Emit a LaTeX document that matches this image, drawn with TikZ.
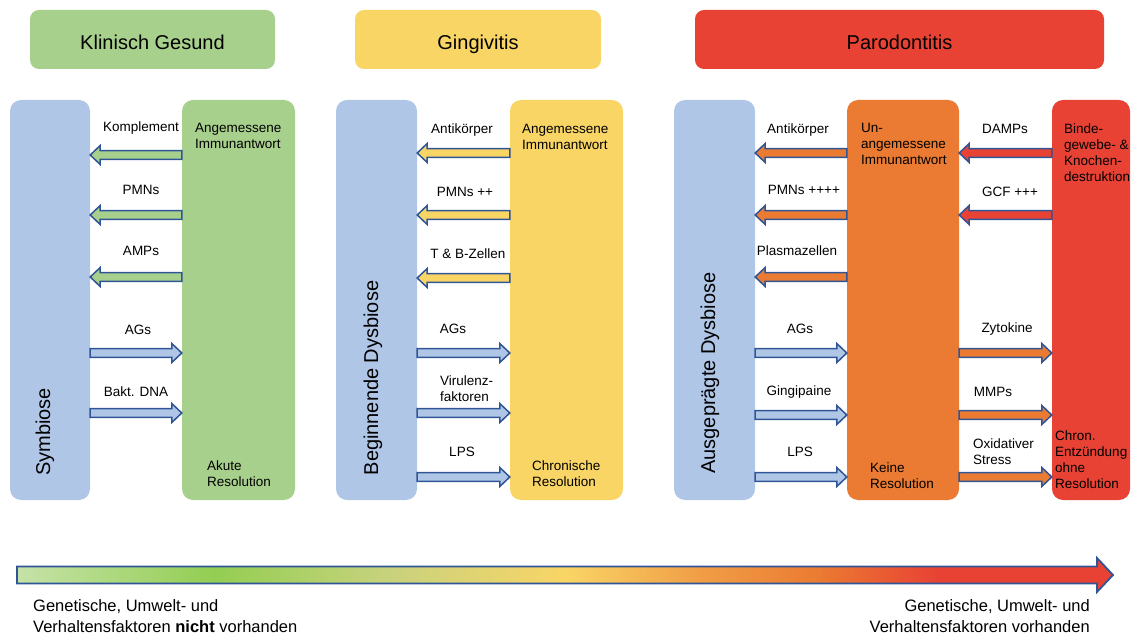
\documentclass[tikz,border=0pt]{standalone}
\usepackage{fontspec}
\setmainfont{Liberation Sans}
\usetikzlibrary{calc}
\definecolor{cblue}{HTML}{B0C6E6}
\definecolor{cgreen}{HTML}{A8D08D}
\definecolor{cyellow}{HTML}{F9D566}
\definecolor{corange}{HTML}{EB7B32}
\definecolor{cred}{HTML}{E84234}
\definecolor{abl}{HTML}{2F5597}
\definecolor{lgreen}{HTML}{C6E2A8}
\definecolor{mgreen}{HTML}{93CE52}
\pgfdeclarehorizontalshading{barshade}{100bp}{color(0bp)=(lgreen); color(25bp)=(lgreen); color(34bp)=(mgreen); color(42bp)=(cgreen!60!cyellow); color(50bp)=(cyellow); color(56bp)=(cyellow!40!corange); color(61.5bp)=(corange); color(67bp)=(cred); color(75bp)=(cred); color(100bp)=(cred)}
\tikzset{
  col/.style={rounded corners=11pt, inner sep=0pt, minimum height=400pt},
  hdr/.style={rounded corners=9pt, inner sep=0pt, minimum height=59pt, text height=21pt, text depth=0pt, font=\fontsize{20}{24}\selectfont},
  lab/.style={inner sep=0pt, font=\fontsize{13.5}{16}\selectfont},
  labl/.style={lab, anchor=west, align=left},
  rot/.style={inner sep=0pt, rotate=90, font=\fontsize{20}{24}\selectfont},
  fatarrow/.style n args={4}{draw=abl, line width=1.5pt, fill=#1, line join=miter,
    to path={let \p1=(\tikztostart), \p2=(\tikztotarget), \n1={ifthenelse(\x2>\x1,#4,-#4)} in
      (\x1,\y1-#2) -- (\x2-\n1,\y1-#2) -- (\x2-\n1,\y1-#3) -- (\x2,\y1) -- (\x2-\n1,\y1+#3) -- (\x2-\n1,\y1+#2) -- (\x1,\y1+#2) -- cycle}},
  fa/.style={fatarrow={#1}{4.3}{9.5}{10}},
}
\begin{document}
\begin{tikzpicture}[x=1pt,y=-1pt]
\useasboundingbox (0,0) rectangle (1133,636);
% headers
\node[hdr, fill=cgreen, minimum width=245pt] (h1) at (152.5,39.5) {Klinisch Gesund};
\node[hdr, fill=cyellow, minimum width=246pt] (h2) at (478,39.5) {Gingivitis};
\node[hdr, fill=cred, minimum width=409pt] (h3) at (899.5,39.5) {Parodontitis};
% columns
\node[col, fill=cblue, minimum width=80pt] (b1) at (50,300) {};
\node[col, fill=cgreen, minimum width=113pt] (g1) at (238.5,300) {};
\node[col, fill=cblue, minimum width=81pt] (b2) at (376.5,300) {};
\node[col, fill=cyellow, minimum width=113pt] (y2) at (566.5,300) {};
\node[col, fill=cblue, minimum width=81pt] (b3) at (714.5,300) {};
\node[col, fill=corange, minimum width=112pt] (o3) at (903,300) {};
\node[col, fill=cred, minimum width=78pt] (r3) at (1091,300) {};
% rotated labels
\node[rot] (t1) at (45,432) {Symbiose};
\node[rot] (t2) at (373,378) {Beginnende Dysbiose};
\node[rot] (t3) at (710,373) {Ausgeprägte Dysbiose};
% column texts
\node[labl] (g1a) at (195,136) {Angemessene\\Immunantwort};
\node[labl] (g1b) at (207,474) {Akute\\Resolution};
\node[labl] (y2a) at (522,137) {Angemessene\\Immunantwort};
\node[labl] (y2b) at (532,474) {Chronische\\Resolution};
\node[labl] (o3a) at (861,144) {Un-\\angemessene\\Immunantwort};
\node[labl] (o3b) at (870,476) {Keine\\Resolution};
\node[labl] (r3a) at (1064,152.5) {Binde-\\gewebe- \&\\Knochen-\\destruktion};
\node[labl] (r3b) at (1055,459.5) {Chron.\\Entzündung\\ohne\\Resolution};
% column 1 arrows
\draw[fa=cgreen] (g1.west|-0,155) to (b1.east|-0,155);
\draw[fa=cgreen] (g1.west|-0,215) to (b1.east|-0,215);
\draw[fa=cgreen] (g1.west|-0,277) to (b1.east|-0,277);
\draw[fa=cblue] (b1.east|-0,353) to (g1.west|-0,353);
\draw[fa=cblue] (b1.east|-0,413) to (g1.west|-0,413);
\node[lab] (l11) at (141,128) {Komplement};
\node[lab] (l12) at (141,190) {PMNs};
\node[lab] (l13) at (141,251) {AMPs};
\node[lab] (l14) at (138,330) {AGs};
\node[lab] (l15) at (136,392) {Bakt. DNA};
% column 2 arrows
\draw[fa=cyellow] (y2.west|-0,153) to (b2.east|-0,153);
\draw[fa=cyellow] (y2.west|-0,215) to (b2.east|-0,215);
\draw[fa=cyellow] (y2.west|-0,278) to (b2.east|-0,278);
\draw[fa=cblue] (b2.east|-0,353) to (y2.west|-0,353);
\draw[fa=cblue] (b2.east|-0,413) to (y2.west|-0,413);
\draw[fa=cblue] (b2.east|-0,477) to (y2.west|-0,477);
\node[lab] (l21) at (462,130) {Antikörper};
\node[lab] (l22) at (465,192) {PMNs ++};
\node[lab] (l23) at (468,254) {T \& B-Zellen};
\node[lab] (l24) at (453,329) {AGs};
\node[labl] (l25) at (440,389) {Virulenz-\\faktoren};
\node[lab] (l26) at (462,452) {LPS};
% column 3 arrows
\draw[fa=corange] (o3.west|-0,153) to (b3.east|-0,153);
\draw[fa=corange] (o3.west|-0,215) to (b3.east|-0,215);
\draw[fa=corange] (o3.west|-0,277) to (b3.east|-0,277);
\draw[fa=cblue] (b3.east|-0,353) to (o3.west|-0,353);
\draw[fa=cblue] (b3.east|-0,415) to (o3.west|-0,415);
\draw[fa=cblue] (b3.east|-0,477) to (o3.west|-0,477);
\node[lab] (l31) at (798,130) {Antikörper};
\node[lab] (l32) at (804,190) {PMNs ++++};
\node[lab] (l33) at (797,251) {Plasmazellen};
\node[lab] (l34) at (800,329) {AGs};
\node[lab] (l35) at (799,392) {Gingipaine};
\node[lab] (l36) at (800,452) {LPS};
% red-orange arrows
\draw[fa=cred] (r3.west|-0,153) to (o3.east|-0,153);
\draw[fa=cred] (r3.west|-0,215) to (o3.east|-0,215);
\draw[fa=corange] (o3.east|-0,353) to (r3.west|-0,353);
\draw[fa=corange] (o3.east|-0,415) to (r3.west|-0,415);
\draw[fa=corange] (o3.east|-0,477) to (r3.west|-0,477);
\node[lab] (l41) at (1005,129) {DAMPs};
\node[lab] (l42) at (1010,192) {GCF +++};
\node[lab] (l43) at (1007,329) {Zytokine};
\node[lab] (l44) at (993,392) {MMPs};
\node[labl] (l45) at (973,452) {Oxidativer\\Stress};
% bottom gradient arrow
\coordinate (gs) at (17,575);
\coordinate (ge) at (1113,575);
\draw[fatarrow={white}{8.5}{17}{16}, shading=barshade, line width=1.8pt] (gs) to (ge);
\node[inner sep=0pt, anchor=west, align=left, font=\fontsize{16.5}{21}\selectfont] (bl) at (33,616.5) {Genetische, Umwelt- und\\Verhaltensfaktoren \textbf{nicht} vorhanden};
\node[inner sep=0pt, anchor=east, align=right, font=\fontsize{16.5}{21}\selectfont] (br) at (1090,616.5) {Genetische, Umwelt- und\\Verhaltensfaktoren vorhanden};
\end{tikzpicture}
\end{document}
